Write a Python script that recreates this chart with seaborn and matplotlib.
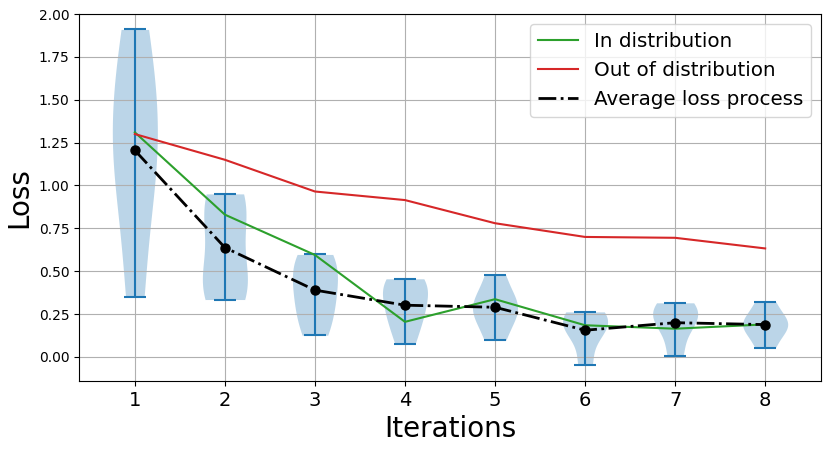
import matplotlib
matplotlib.use("Agg")
import matplotlib.pyplot as plt
import seaborn as sns
import pandas as pd

# iterations and per-iteration loss samples
iterations = [1, 2, 3, 4, 5, 6, 7, 8]
samples = [
    [0.35, 0.9, 1.2, 1.3, 1.6, 1.91],
    [0.335, 0.42, 0.47, 0.76, 0.90, 0.951],
    [0.127, 0.25, 0.35, 0.45, 0.55, 0.598],
    [0.076, 0.22, 0.26, 0.38, 0.42, 0.456],
    [0.099, 0.25, 0.29, 0.32, 0.481],
    [-0.047, 0.14, 0.19, 0.23, 0.263],
    [0.008, 0.17, 0.24, 0.27, 0.316],
    [0.054, 0.17, 0.19, 0.21, 0.323],
]
in_dist = [1.31, 0.83, 0.595, 0.205, 0.337, 0.185, 0.165, 0.19]
out_dist = [1.30, 1.15, 0.965, 0.915, 0.78, 0.70, 0.695, 0.633]
avg_loss = [1.205, 0.638, 0.39, 0.302, 0.29, 0.156, 0.20, 0.189]

# long-form table for seaborn
rows = []
for it, vals in zip(iterations, samples):
    for v in vals:
        rows.append({"iteration": it, "loss": v})
df = pd.DataFrame(rows)

fig = plt.figure(figsize=(8.31, 4.51), dpi=100)
ax = fig.add_axes([79 / 831, 70 / 451, 742 / 831, 367 / 451])

sns.violinplot(data=df, x="iteration", y="loss", native_scale=True, cut=0,
               inner=None, density_norm="width", width=0.5, color="C0",
               saturation=1, linewidth=0, alpha=0.3, ax=ax)

# extrema bars like matplotlib's violinplot
mins = [min(v) for v in samples]
maxs = [max(v) for v in samples]
left = [i - 0.125 for i in iterations]
right = [i + 0.125 for i in iterations]
ax.vlines(iterations, mins, maxs, color="C0", lw=1.5, zorder=2)
ax.hlines(mins, left, right, color="C0", lw=1.5, zorder=2)
ax.hlines(maxs, left, right, color="C0", lw=1.5, zorder=2)

ax.plot(iterations, in_dist, color="tab:green", lw=1.5, label="In distribution")
ax.plot(iterations, out_dist, color="tab:red", lw=1.5, label="Out of distribution")
ax.plot(iterations, avg_loss, "k-.", lw=2, label="Average loss process")
ax.plot(iterations, avg_loss, "ko", markersize=6.5)

ax.set_xlim(0.38, 8.62)
ax.set_ylim(-0.14, 2.0)
ax.set_xticks(iterations)
ax.set_yticks([0, 0.25, 0.5, 0.75, 1.0, 1.25, 1.5, 1.75, 2.0])
ax.tick_params(axis="x", labelsize=14)
ax.tick_params(axis="y", labelsize=10)
ax.set_xlabel("Iterations", fontsize=20)
ax.set_ylabel("Loss", fontsize=20)
ax.grid(True)
ax.legend(loc="upper right", fontsize=14.3)

fig.savefig("out.png", dpi=100)
